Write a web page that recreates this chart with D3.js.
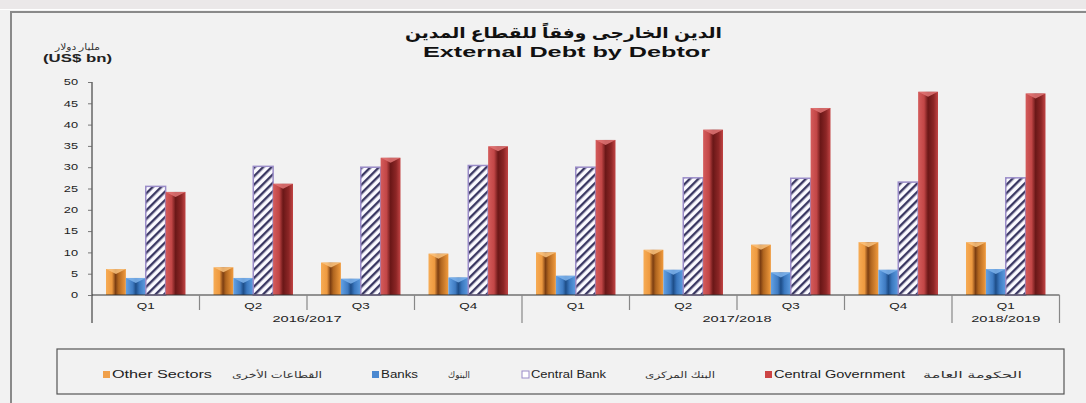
<!DOCTYPE html>
<html>
<head>
<meta charset="utf-8">
<script src="https://cdn.jsdelivr.net/npm/d3@7"></script>
<style>
  html, body { margin: 0; padding: 0; background: #f2f2f2; }
  svg { display: block; font-family: "Liberation Sans", "DejaVu Sans", sans-serif; }
</style>
</head>
<body>
<svg id="chart" width="1086" height="403"></svg>
<script>
// quarters along the x axis and the fiscal years under them
const quarters = ["Q1", "Q2", "Q3", "Q4", "Q1", "Q2", "Q3", "Q4", "Q1"];
const yearLabels = ["2016/2017", "2017/2018", "2018/2019"];
const yearSpans = [4, 4, 1];

// US$ bn
const otherSectors = [6.1, 6.5, 7.6, 9.7, 10.0, 10.6, 11.8, 12.4, 12.4];
const banks = [4.0, 4.0, 3.8, 4.1, 4.5, 5.9, 5.3, 5.9, 6.1];
const centralBank = [25.5, 30.2, 30.0, 30.4, 30.0, 27.5, 27.4, 26.5, 27.5];
const centralGov = [24.2, 26.1, 32.2, 34.9, 36.4, 38.8, 43.9, 47.7, 47.3];

const seriesNames = ["Other Sectors", "Banks", "Central Bank", "Central Government"];
const seriesArabic = ["القطاعات الأخرى", "البنوك", "البنك المركزى", "الحكومة العامة"];
const yTicks = [0, 5, 10, 15, 20, 25, 30, 35, 40, 45, 50];

const series = [otherSectors, banks, centralBank, centralGov];

const svg = d3.select("#chart");
const defs = svg.append("defs");

// the source picture is stretched sideways, so text gets widened to fit
function fit(sel, w) {
  sel.attr("textLength", w).attr("lengthAdjust", "spacingAndGlyphs");
  return sel;
}
function widen(sel, k) {
  sel.each(function () {
    const len = this.getComputedTextLength();
    d3.select(this).attr("textLength", len * k).attr("lengthAdjust", "spacingAndGlyphs");
  });
}

// cylinder-ish gradients for the bars
function cyl(id, stops) {
  const g = defs.append("linearGradient").attr("id", id)
    .attr("x1", "0%").attr("x2", "100%").attr("y1", "0%").attr("y2", "0%");
  stops.forEach(s => g.append("stop").attr("offset", s[0]).attr("stop-color", s[1]));
}
cyl("gOrange", [[0, "#f7ac55"], [0.3, "#ee9a40"], [0.48, "#7c3e12"], [0.62, "#b0651f"], [1, "#f19b3d"]]);
cyl("gBlue", [[0, "#62a2e6"], [0.35, "#3f7bc2"], [0.5, "#1d4d88"], [0.68, "#3b78bf"], [1, "#5e9de0"]]);
cyl("gRed", [[0, "#d45c5c"], [0.3, "#c24646"], [0.5, "#6a1717"], [0.78, "#8c2626"], [1, "#c24444"]]);

const hatch = defs.append("pattern").attr("id", "hatch")
  .attr("patternUnits", "userSpaceOnUse").attr("width", 6).attr("height", 6)
  .attr("patternTransform", "rotate(45)");
hatch.append("rect").attr("width", 6).attr("height", 6).attr("fill", "#fbfaff");
hatch.append("rect").attr("width", 2.4).attr("height", 6).attr("fill", "#3a3762");

const fills = ["url(#gOrange)", "url(#gBlue)", "url(#hatch)", "url(#gRed)"];
const capColors = ["#f9c27e", "#7fb4ec", null, "#e07575"];
const swatch = ["#f0a04a", "#4a88d0", "#ffffff", "#cc4444"];

// frame
svg.append("rect").attr("x", 0).attr("y", 0).attr("width", 1086).attr("height", 10).attr("fill", "#ebe8e9");
svg.append("line").attr("x1", 0).attr("x2", 1086).attr("y1", 9.5).attr("y2", 9.5).attr("stroke", "#ffffff");
svg.append("path").attr("d", "M11,403 V12 H1086").attr("fill", "none").attr("stroke", "#8a8a8a").attr("stroke-width", 2);

// titles
fit(svg.append("text").attr("x", 405).attr("y", 38)
  .attr("font-size", 15).attr("font-weight", "bold").attr("fill", "#111")
  .text("الدين الخارجى وفقاً للقطاع المدين"), 317);
fit(svg.append("text").attr("x", 423).attr("y", 57)
  .attr("font-size", 14).attr("font-weight", "bold").attr("fill", "#111")
  .text("External Debt by Debtor"), 287);
fit(svg.append("text").attr("x", 55).attr("y", 50)
  .attr("font-size", 9).attr("fill", "#333").text("مليار دولار"), 45);
fit(svg.append("text").attr("x", 43).attr("y", 62)
  .attr("font-size", 10).attr("font-weight", "bold").attr("fill", "#222").text("(US$ bn)"), 69);

// scales
const x0 = d3.scaleBand().domain(d3.range(quarters.length)).range([92, 1059.5]).padding(0);
const x1 = d3.scaleBand().domain(d3.range(series.length)).range([14, x0.bandwidth() - 14]).padding(0);
const y = d3.scaleLinear().domain([0, 50]).range([295, 82]);

// y axis
const yAxis = svg.append("g").attr("transform", "translate(92,0)")
  .call(d3.axisLeft(y).tickValues(yTicks).tickSize(4).tickPadding(10));
yAxis.select(".domain").remove();
yAxis.selectAll("line").attr("stroke", "#777");
yAxis.selectAll("text").attr("font-size", 8.5).attr("fill", "#222")
  .attr("font-family", "Liberation Sans, sans-serif").call(widen, 1.5);
svg.append("line").attr("x1", 92).attr("x2", 92).attr("y1", 82).attr("y2", 323)
  .attr("stroke", "#666").attr("stroke-width", 1.5);

// bars
const groups = svg.append("g").selectAll("g").data(quarters).join("g")
  .attr("transform", (d, i) => `translate(${x0(i)},0)`);

series.forEach((vals, s) => {
  groups.append("rect")
    .attr("x", x1(s))
    .attr("width", x1.bandwidth())
    .attr("y", (d, i) => y(vals[i]))
    .attr("height", (d, i) => y(0) - y(vals[i]))
    .attr("fill", fills[s])
    .attr("stroke", s === 2 ? "#9a8cc8" : "none")
    .attr("stroke-width", 1.5);
  if (capColors[s]) {
    groups.append("path")
      .attr("d", (d, i) => {
        const l = x1(s), w = x1.bandwidth(), t = y(vals[i]);
        return `M${l},${t} L${l + w},${t} L${l + w * 0.5},${t + 5} Z`;
      })
      .attr("fill", capColors[s]).attr("opacity", 0.85);
  }
});

// x axis
svg.append("line").attr("x1", 92).attr("x2", 1059.5).attr("y1", 295).attr("y2", 295)
  .attr("stroke", "#333").attr("stroke-width", 1.2);

let yearStart = [0];
yearSpans.forEach((n, k) => yearStart.push(yearStart[k] + n));

d3.range(1, quarters.length + 1).forEach(i => {
  const isYear = yearStart.includes(i);
  const xx = i < quarters.length ? x0(i) : x0.range()[1];
  svg.append("line").attr("x1", xx).attr("x2", xx).attr("y1", 295).attr("y2", isYear ? 323 : 310)
    .attr("stroke", "#888").attr("stroke-width", 1.2);
});

svg.append("g").selectAll("text").data(quarters).join("text")
  .attr("x", (d, i) => x0(i) + x0.bandwidth() / 2).attr("y", 309)
  .attr("text-anchor", "middle").attr("font-size", 9).attr("fill", "#222").text(d => d)
  .call(fit, 18);

svg.append("g").selectAll("text").data(yearLabels).join("text")
  .attr("x", (d, k) => x0(yearStart[k]) + yearSpans[k] * x0.bandwidth() / 2).attr("y", 322)
  .attr("text-anchor", "middle").attr("font-size", 9).attr("fill", "#222").text(d => d)
  .call(fit, 69);

// legend
svg.append("rect").attr("x", 57).attr("y", 349).attr("width", 1007).attr("height", 45)
  .attr("fill", "none").attr("stroke", "#555").attr("stroke-width", 1.2);

const legX = [103, 372, 522, 765];
const nameW = [100, 37, 75, 131];
const arabStart = [232, 448, 645, 923];
const arabW = [90, 22, 70, 99];
seriesNames.forEach((name, s) => {
  svg.append("rect").attr("x", legX[s]).attr("y", 371).attr("width", 7).attr("height", 7)
    .attr("fill", swatch[s]).attr("stroke", s === 2 ? "#9a8cc8" : "none");
  fit(svg.append("text").attr("x", legX[s] + 9).attr("y", 378).attr("font-size", 10).attr("fill", "#222")
    .text(name), nameW[s]);
  fit(svg.append("text").attr("x", arabStart[s]).attr("y", 378)
    .attr("font-size", 9).attr("fill", "#333").text(seriesArabic[s]), arabW[s]);
});
</script>
</body>
</html>
